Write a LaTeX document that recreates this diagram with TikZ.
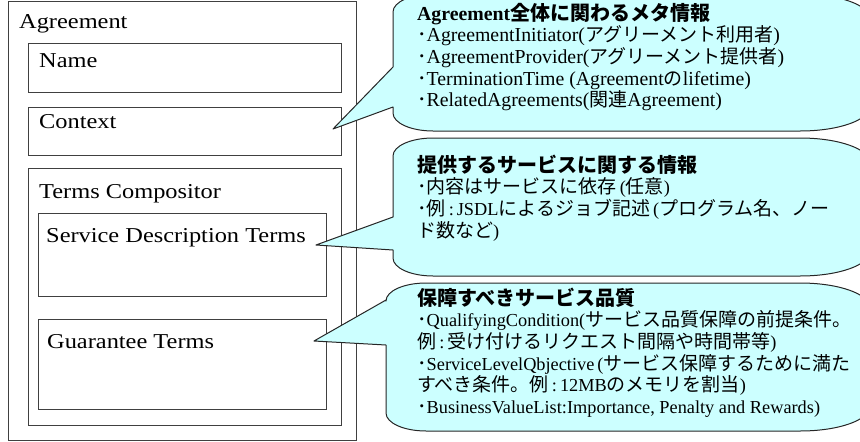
\documentclass[tikz,border=0pt]{standalone}
\usepackage{fontspec}
\newfontfamily\tmfont{Liberation Serif}
\newfontfamily\lblfont[FakeStretch=1.15]{Liberation Serif}
\newfontfamily\jpfont{Noto Sans CJK JP}
\newcommand\J[1]{{\jpfont\fontsize{19}{21.7}\selectfont #1}}
\newcommand\JT[1]{{\jpfont\bfseries\fontsize{20}{21.7}\selectfont #1}}
\newcommand\dotm{{\jpfont\fontsize{19}{21.7}\selectfont ･}}
\newcommand\clines[1]{\vtop{\baselineskip=21.7pt\lineskiplimit=-100pt\lineskip=0pt\halign{##\hfil\cr#1\crcr}}}
% L T R B rxL baseTop baseBot tip
\newcommand\bubble[8]{%
 \filldraw[bubblebody] (#1,#6) -- (#1,{#2+18}) .. controls (#1,{#2+8}) and ({#1+0.4477*#5},#2) .. ({#1+#5},#2)
   -- ({#3-70},#2) .. controls ({#3-31},#2) and (#3,{#2+11}) .. (#3,{#2+25})
   -- (#3,{#4-25}) .. controls (#3,{#4-11}) and ({#3-31},#4) .. ({#3-70},#4)
   -- ({#1+#5},#4) .. controls ({#1+0.4477*#5},#4) and (#1,{#4-8}) .. (#1,{#4-18})
   -- (#1,#7) -- (#8) -- cycle;}
\definecolor{bubblecyan}{RGB}{204,255,255}
\begin{document}
\begin{tikzpicture}[x=1pt,y=-1pt,
  box/.style={draw=black!75, line width=0.9pt, fill=white, inner sep=0pt, outer sep=0pt, anchor=north west},
  lbl/.style={anchor=base west, inner sep=0pt, font=\lblfont\fontsize{21.2}{26}\selectfont},
  bubblebody/.style={fill=bubblecyan, draw=black!85, line width=1pt, line join=round},
  ctext/.style={anchor=base west, inner sep=0pt, font=\tmfont\fontsize{18.3}{21.7}\selectfont},
  ctextbig/.style={ctext, font=\tmfont\fontsize{19.8}{21.7}\selectfont}]
\useasboundingbox (0,0) rectangle (860,442);
\clip (0,0) rectangle (860,442);
% boxes
\node[box, minimum width=347.5pt, minimum height=439pt] (agr) at (8.5,1.5) {};
\node[box, minimum width=313pt, minimum height=49pt] (name) at (28,43) {};
\node[box, minimum width=313pt, minimum height=48pt] (ctx) at (28,107) {};
\node[box, minimum width=313pt, minimum height=257pt] (tc) at (28,168) {};
\node[box, minimum width=287.5pt, minimum height=83pt] (sdt) at (38.5,213) {};
\node[box, minimum width=287.5pt, minimum height=90pt] (gt) at (38.5,319) {};
% labels
\node[lbl] (agrl) at (19,28) {Agreement};
\node[lbl] (namel) at (39,67) {Name};
\node[lbl] (ctxl) at (39,128) {Context};
\node[lbl] (tcl) at (39,198) {Terms Compositor};
\node[lbl] (sdtl) at (46,242) {Service Description Terms};
\node[lbl] (gtl) at (47,348) {Guarantee Terms};
% callout tips
\coordinate (tip1) at (333,129);
\coordinate (tip2) at (316,245);
\coordinate (tip3) at (314,341);
% callouts
\bubble{393}{-6}{870}{131}{40}{67}{107}{tip1}
\bubble{393}{138}{870}{276}{40}{217}{250}{tip2}
\bubble{386}{283}{870}{431}{40}{300}{345}{tip3}
% callout texts
\node[ctextbig] (c1t) at (417,20) {\clines{%
 \bfseries Agreement\JT{全体に関わるメタ情報}\cr
 \dotm AgreementInitiator(\J{アグリーメント利用者})\cr
 \dotm AgreementProvider(\J{アグリーメント提供者})\cr
 \dotm TerminationTime (Agreement\J{の}lifetime)\cr
 \dotm RelatedAgreements(\J{関連}Agreement)}};
\node[ctext] (c2t) at (417,172) {\clines{%
 \JT{提供するサービスに関する情報}\cr
 \dotm\J{内容はサービスに依存}\,(\J{任意})\cr
 \dotm\J{例}\,:\,JSDL\J{によるジョブ記述}\,(\J{プログラム名、ノー}\cr
 \J{ド数など})}};
\node[ctext] (c3t) at (417,305) {\clines{%
 \JT{保障すべきサービス品質}\cr
 \dotm QualifyingCondition(\J{サービス品質保障の前提条件。}\cr
 \J{例}\,:\,\J{受け付けるリクエスト間隔や時間帯等})\cr
 \dotm ServiceLevelQbjective\,(\J{サービス保障するために満た}\cr
 \J{すべき条件。例}\,:\,12MB\J{のメモリを割当})\cr
 \dotm BusinessValueList:Importance, Penalty and Rewards)}};
\end{tikzpicture}
\end{document}
